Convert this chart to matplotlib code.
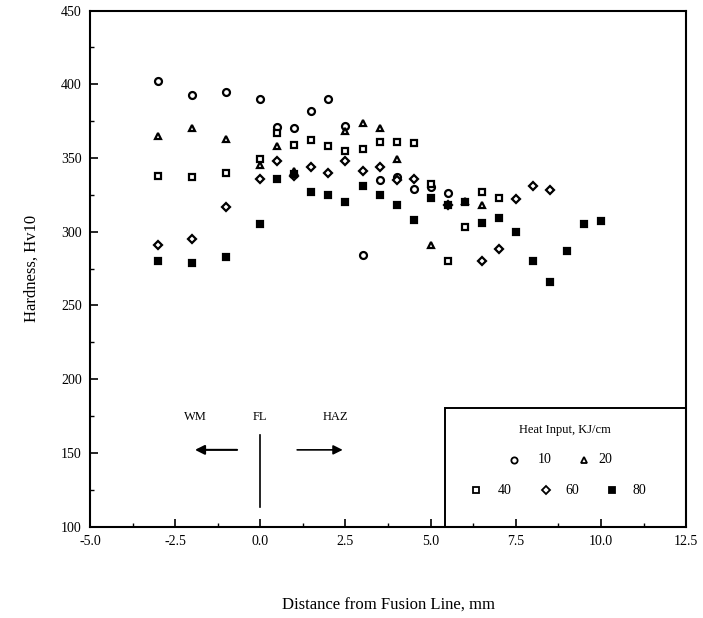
import matplotlib
matplotlib.use("Agg")
import matplotlib.pyplot as plt
from matplotlib.patches import Rectangle
from matplotlib.ticker import MultipleLocator, FormatStrFormatter

plt.rcParams['font.family'] = ['Liberation Serif', 'DejaVu Serif']

#### Data (distance in mm, hardness Hv10)

x10 = [-3, -2, -1, 0, 0.5, 1, 1.5, 2, 2.5, 3, 3.5, 4, 4.5, 5, 5.5]
hv10 = [402, 393, 395, 390, 371, 370, 382, 390, 372, 284, 335, 337, 329, 330, 326]

x20 = [-3, -2, -1, 0, 0.5, 1, 2.5, 3, 3.5, 4, 5, 6, 6.5]
hv20 = [365, 370, 363, 345, 358, 341, 368, 374, 370, 349, 291, 321, 318]

x40 = [-3, -2, -1, 0, 0.5, 1, 1.5, 2, 2.5, 3, 3.5, 4, 4.5, 5, 5.5, 6, 6.5, 7]
hv40 = [338, 337, 340, 349, 367, 359, 362, 358, 355, 356, 361, 361, 360, 332,
        280, 303, 327, 323]

x60 = [-3, -2, -1, 0, 0.5, 1, 1.5, 2, 2.5, 3, 3.5, 4, 4.5, 5.5, 6.5, 7, 7.5, 8, 8.5]
hv60 = [291, 295, 317, 336, 348, 338, 344, 340, 348, 341, 344, 335, 336, 318,
        280, 288, 322, 331, 328]

x80 = [-3, -2, -1, 0, 0.5, 1, 1.5, 2, 2.5, 3, 3.5, 4, 4.5, 5, 5.5, 6, 6.5, 7,
       7.5, 8, 8.5, 9, 9.5, 10]
hv80 = [280, 279, 283, 305, 336, 339, 327, 325, 320, 331, 325, 318, 308, 323,
        318, 320, 306, 309, 300, 280, 266, 287, 305, 307]

heat_inputs = ['10', '20', '40', '60', '80']

#### Figure

fig = plt.figure(figsize=(7.03, 6.18), dpi=100)
ax = fig.add_axes([0.128, 0.148, 0.848, 0.835])

mk = dict(linestyle='none', color='black', markersize=5, markeredgewidth=1.6)
ax.plot(x10, hv10, marker='o', markerfacecolor='white', **mk)
ax.plot(x20, hv20, marker='^', markerfacecolor='white', **mk)
ax.plot(x40, hv40, marker='s', markerfacecolor='white', **mk)
ax.plot(x60, hv60, marker='D', markerfacecolor='white', markersize=4,
        linestyle='none', color='black', markeredgewidth=1.6)
ax.plot(x80, hv80, marker='s', markerfacecolor='black', **mk)

ax.set_xlim(-5, 12.5)
ax.set_ylim(100, 450)
ax.xaxis.set_major_locator(MultipleLocator(2.5))
ax.xaxis.set_minor_locator(MultipleLocator(1.25))
ax.yaxis.set_major_locator(MultipleLocator(50))
ax.yaxis.set_minor_locator(MultipleLocator(25))
ax.xaxis.set_major_formatter(FormatStrFormatter('%.1f'))
ax.tick_params(which='major', direction='in', length=6, width=1.2,
               labelsize=10, pad=6)
ax.tick_params(which='minor', direction='in', length=3, width=1)
for s in ax.spines.values():
    s.set_linewidth(1.5)

ax.set_xlabel('Distance from Fusion Line, mm', fontsize=12, labelpad=36)
ax.set_ylabel('Hardness, Hv10', fontsize=12, labelpad=15)

# WM / FL / HAZ annotations
ax.text(-1.9, 174, 'WM', fontsize=9, ha='center', va='center')
ax.text(0, 174, 'FL', fontsize=9, ha='center', va='center')
ax.text(2.2, 174, 'HAZ', fontsize=9, ha='center', va='center')
ax.annotate('', xy=(-2.0, 152), xytext=(-0.6, 152),
            arrowprops=dict(arrowstyle='-|>', color='black', lw=1.5,
                            mutation_scale=14))
ax.annotate('', xy=(2.5, 152), xytext=(1.0, 152),
            arrowprops=dict(arrowstyle='-|>', color='black', lw=1.2,
                            mutation_scale=14))
ax.plot([0, 0], [113, 162], color='black', lw=1.2)

# legend box
tr = ax.transAxes
ax.add_patch(Rectangle((0.595, 0.0), 0.405, 0.230, transform=tr,
                       fill=False, lw=1.4, edgecolor='black'))
ax.text(0.797, 0.187, 'Heat Input, KJ/cm', transform=tr, fontsize=9,
        ha='center', va='center')
leg_mk = ['o', '^', 's', 'D', 's']
leg_fc = ['white', 'white', 'white', 'white', 'black']
leg_mx = [0.712, 0.829, 0.648, 0.765, 0.876]
leg_tx = [0.762, 0.864, 0.695, 0.809, 0.922]
leg_y = [0.129, 0.129, 0.070, 0.070, 0.070]
for i in range(len(heat_inputs)):
    ax.plot(leg_mx[i], leg_y[i], marker=leg_mk[i], markerfacecolor=leg_fc[i],
            color='black', markersize=4.5, markeredgewidth=1.3,
            transform=tr, clip_on=False)
    ax.text(leg_tx[i], leg_y[i], heat_inputs[i], transform=tr, fontsize=10,
            ha='center', va='center')

fig.savefig('out.png', dpi=100)
